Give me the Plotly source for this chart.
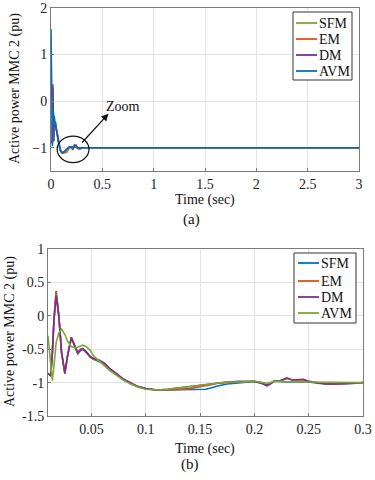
import plotly.graph_objects as go

# ---- data (bottom zoomed view, time in sec) ----
t = [0.010, 0.0125, 0.014, 0.0155, 0.0175, 0.020, 0.0225, 0.0255, 0.028, 0.0315,
     0.0345, 0.0374, 0.040, 0.042, 0.045, 0.049, 0.052, 0.057, 0.062, 0.067,
     0.072, 0.079, 0.086, 0.093, 0.100, 0.110, 0.120, 0.130, 0.140, 0.150,
     0.155, 0.160, 0.166, 0.175, 0.186, 0.195, 0.200, 0.205, 0.2115, 0.2150,
     0.218, 0.224, 0.230, 0.235, 0.240, 0.245, 0.250, 0.258, 0.266, 0.275,
     0.285, 0.293, 0.300]

sfm = [-0.86, -0.90, -0.55, -0.05, 0.37, 0.00, -0.55, -0.87, -0.60, -0.33,
       -0.45, -0.57, -0.52, -0.50, -0.55, -0.62, -0.65, -0.68, -0.72, -0.80,
       -0.86, -0.95, -1.01, -1.06, -1.09, -1.11, -1.11, -1.11, -1.11, -1.11,
       -1.10, -1.08, -1.05, -1.02, -1.00, -0.99, -0.99, -1.00, -1.05, -1.02,
       -0.98, -0.99, -0.99, -0.99, -0.99, -0.99, -0.99, -1.01, -1.02, -1.02,
       -1.02, -1.01, -1.00]

em = [-0.86, -0.90, -0.55, -0.05, 0.36, 0.00, -0.55, -0.86, -0.60, -0.33,
      -0.45, -0.56, -0.51, -0.49, -0.54, -0.62, -0.65, -0.67, -0.72, -0.80,
      -0.86, -0.95, -1.01, -1.06, -1.09, -1.11, -1.11, -1.10, -1.09, -1.06,
      -1.05, -1.03, -1.01, -1.00, -0.99, -0.98, -0.98, -1.00, -1.04, -1.01,
      -0.98, -0.97, -0.94, -0.96, -0.96, -0.96, -0.98, -1.00, -1.02, -1.02,
      -1.02, -1.01, -1.00]

dm = [-0.86, -0.90, -0.57, -0.08, 0.30, -0.02, -0.55, -0.85, -0.60, -0.32,
      -0.44, -0.55, -0.50, -0.49, -0.53, -0.61, -0.64, -0.66, -0.71, -0.79,
      -0.85, -0.94, -1.00, -1.06, -1.09, -1.11, -1.10, -1.08, -1.06, -1.04,
      -1.03, -1.01, -1.00, -0.99, -0.98, -0.98, -0.98, -1.00, -1.04, -1.01,
      -0.98, -0.97, -0.93, -0.96, -0.96, -0.95, -0.98, -1.00, -1.02, -1.02,
      -1.02, -1.01, -1.00]

avm = [-0.30, -0.80, -0.97, -0.75, -0.40, -0.25, -0.20, -0.28, -0.38, -0.46,
       -0.48, -0.47, -0.45, -0.44, -0.46, -0.52, -0.60, -0.68, -0.75, -0.82,
       -0.88, -0.96, -1.02, -1.07, -1.10, -1.11, -1.10, -1.08, -1.05, -1.03,
       -1.02, -1.01, -1.00, -0.99, -0.99, -0.98, -0.98, -0.99, -1.01, -1.00,
       -0.98, -0.98, -0.99, -0.99, -0.99, -0.99, -1.00, -1.00, -1.00, -1.00,
       -1.00, -1.00, -1.00]

# full-run view (0-3 s): initial values at t=0 and steady state at 3 s
t0 = 0.0
t_end = 3.0
init_sfm, init_em, init_dm, init_avm = -0.9, -0.9, -0.9, 1.55
steady = -1.0

names = ["SFM", "EM", "DM", "AVM"]
series = [sfm, em, dm, avm]
inits = [init_sfm, init_em, init_dm, init_avm]

BLUE = "#0072BD"
ORANGE = "#D95319"
PURPLE = "#7E2F8E"
GREEN = "#77AC30"
top_colors = [GREEN, ORANGE, PURPLE, BLUE]
bot_colors = [BLUE, ORANGE, PURPLE, GREEN]

FONT = "Liberation Serif"
TXT = "#111"

fig = go.Figure()
t_full = [t0] + t + [t_end]
for n, s, i0, c in zip(names, series, inits, top_colors):
    fig.add_trace(go.Scatter(x=t_full, y=[i0] + s + [steady], mode="lines",
                             name=n, line=dict(color=c, width=1.6),
                             xaxis="x", yaxis="y", showlegend=False))
for n, s, c in zip(names, series, bot_colors):
    fig.add_trace(go.Scatter(x=t, y=s, mode="lines", name=n,
                             line=dict(color=c, width=1.6),
                             xaxis="x2", yaxis="y2", showlegend=False))

W, H = 375, 480
def px(x):
    return x / W
def py(y):
    return 1 - y / H

axis_common = dict(showgrid=True, gridcolor="#e3e3e3", gridwidth=1,
                   showline=True, linecolor="#7a7a7a", linewidth=1, mirror=True,
                   ticks="inside", ticklen=3, tickcolor="#7a7a7a",
                   zeroline=False, automargin=False, ticklabeloverflow="allow",
                   tickfont=dict(family=FONT, size=14, color="#222"))

fig.update_layout(
    width=W, height=H, margin=dict(l=0, r=0, t=0, b=0),
    paper_bgcolor="white", plot_bgcolor="white",
    font=dict(family=FONT, size=14, color=TXT),
    xaxis=dict(domain=[px(51), px(359)], range=[0, 3],
               tickvals=[0, 0.5, 1, 1.5, 2, 2.5, 3],
               ticktext=["0", "0.5", "1", "1.5", "2", "2.5", "3"],
               anchor="y", **axis_common),
    yaxis=dict(domain=[py(171), py(8)], range=[-1.5, 2],
               tickvals=[-1, 0, 1, 2], anchor="x", **axis_common),
    xaxis2=dict(domain=[px(48), px(363)], range=[0.01, 0.3],
                tickvals=[0.05, 0.1, 0.15, 0.2, 0.25, 0.3],
                ticktext=["0.05", "0.1", "0.15", "0.2", "0.25", "0.3"],
                anchor="y2", **axis_common),
    yaxis2=dict(domain=[py(416), py(249)], range=[-1.5, 1],
                tickvals=[-1.5, -1, -0.5, 0, 0.5, 1],
                ticktext=["-1.5", "-1", "-0.5", "0", "0.5", "1"],
                anchor="x2", **axis_common),
    showlegend=False,
)

ann = []
shapes = []
def txt(text, x, y, size=14, angle=0, xanchor="center"):
    ann.append(dict(text=text, x=px(x), y=py(y), xref="paper", yref="paper",
                    showarrow=False, textangle=angle, xanchor=xanchor,
                    yanchor="middle", font=dict(family=FONT, size=size, color=TXT)))

txt("Active power MMC 2 (pu)", 15, 89, 14, -90)
txt("Time (sec)", 205, 200, 14)
txt("(a)", 191, 219, 15)
txt("Active power MMC 2 (pu)", 10, 332, 14, -90)
txt("Time (sec)", 205, 449, 14)
txt("(b)", 190, 464, 15)

# custom legends
def legend(box, line_x, text_x, ys, colors):
    x0, y0, x1, y1 = box
    shapes.append(dict(type="rect", xref="paper", yref="paper",
                       x0=px(x0), x1=px(x1), y0=py(y1), y1=py(y0),
                       line=dict(color="#333", width=1), fillcolor="white", layer="above"))
    for n, yy, c in zip(names, ys, colors):
        shapes.append(dict(type="line", xref="paper", yref="paper",
                           x0=px(line_x[0]), x1=px(line_x[1]), y0=py(yy), y1=py(yy),
                           line=dict(color=c, width=1.8), layer="above"))
        txt(n, text_x, yy, 14, 0, "left")

legend((293, 12, 352, 80), (296, 317), 317, [23, 39, 55, 71], top_colors)
legend((294, 253, 356, 323), (298, 319), 319, [263, 281, 297, 313], bot_colors)

# Zoom arrow
ann.append(dict(text="", x=0.56, y=-0.27, ax=0.29, ay=-0.92, xref="x", yref="y",
                axref="x", ayref="y", showarrow=True, arrowhead=2, arrowsize=1.2,
                arrowwidth=1.2, arrowcolor=TXT))
ann.append(dict(text="Zoom", x=0.70, y=-0.11, xref="x", yref="y", showarrow=False,
                font=dict(family=FONT, size=14, color=TXT)))

shapes.append(dict(type="circle", xref="x", yref="y", x0=0.06, x1=0.37, y0=-1.32, y1=-0.75,
                   line=dict(color=TXT, width=1.2)))
fig.update_layout(annotations=ann, shapes=shapes)

fig.write_html("out.html", config={"displayModeBar": False},
               post_script="document.body.style.margin='0';document.body.style.overflow='hidden';")
